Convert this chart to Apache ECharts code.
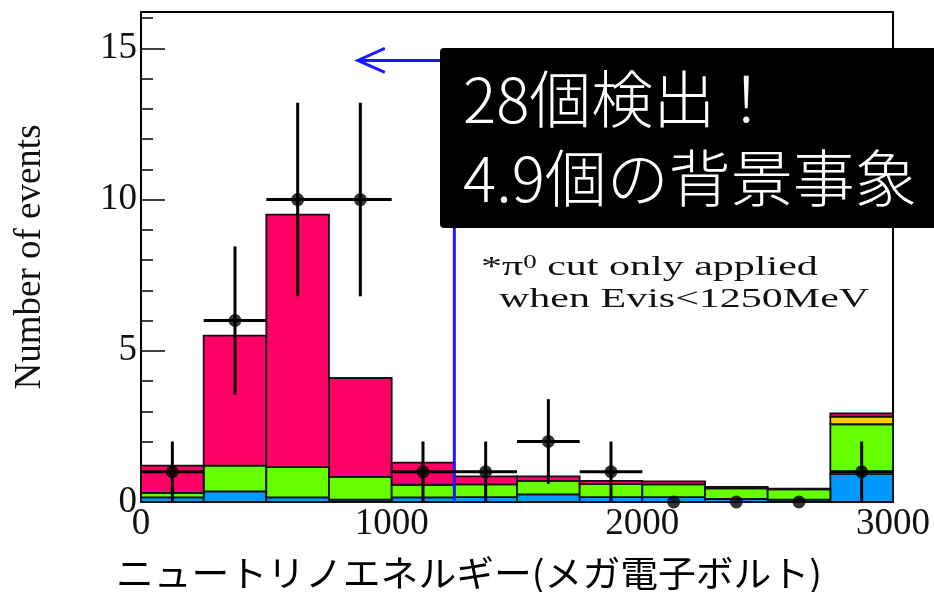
<!DOCTYPE html>
<html>
<head>
<meta charset="utf-8">
<script src="https://cdn.jsdelivr.net/npm/echarts@6/dist/echarts.min.js"></script>
<style>
  html, body { margin: 0; padding: 0; background: #fff; }
  #chart { width: 934px; height: 592px; }
</style>
</head>
<body>
<div id="chart"></div>
<script>
// histogram bins (MeV)
const binLow = [0, 250, 500, 750, 1000, 1250, 1500, 1750, 2000, 2250, 2500, 2750];
const binHigh = [250, 500, 750, 1000, 1250, 1500, 1750, 2000, 2250, 2500, 2750, 3000];

// stacked MC layers, bottom to top (thickness of each layer per bin)
const layerBlue = [0.15, 0.35, 0.15, 0.08, 0.15, 0.16, 0.25, 0.16, 0.16, 0.10, 0.08, 0.92];
const layerGreen = [0.15, 0.85, 1.00, 0.75, 0.42, 0.42, 0.45, 0.44, 0.42, 0.35, 0.34, 1.65];
const layerYellow = [0, 0, 0, 0, 0, 0, 0, 0, 0, 0, 0, 0.25];
const layerRed = [0.90, 4.30, 8.35, 3.27, 0.73, 0.27, 0.15, 0.10, 0.10, 0.05, 0.02, 0.11];

// observed events
const obsEnergy = [125, 375, 625, 875, 1125, 1375, 1625, 1875, 2125, 2375, 2625, 2875];
const obsCount = [1, 6, 10, 10, 1, 1, 2, 1, 0, 0, 0, 1];
const obsErrLow = [1, 2.45, 3.2, 3.2, 1, 1, 1.4, 1, 0, 0, 0, 1];
const obsErrHigh = [1, 2.45, 3.2, 3.2, 1, 1, 1.4, 1, 0, 0, 0, 1];

// cut line and arrow
const cutEnergy = 1250;
const arrowLevel = 14.6;
const arrowTip = 865;

const serif = "'Liberation Serif', 'DejaVu Serif', serif";
const cjk = "'Noto Sans CJK JP', 'Noto Sans', sans-serif";

const chart = echarts.init(document.getElementById('chart'));

// build stacked rect data [lo, hi, base, top]
const layers = [
  { name: 'blue', values: layerBlue, color: '#0099ff' },
  { name: 'green', values: layerGreen, color: '#66ff00' },
  { name: 'yellow', values: layerYellow, color: '#ffcc00' },
  { name: 'red', values: layerRed, color: '#ff0066' }
];
const base = binLow.map(() => 0);
const layerSeries = layers.map(layer => {
  const data = binLow.map((lo, i) => {
    const b = base[i];
    const t = b + layer.values[i];
    base[i] = t;
    return [lo, binHigh[i], b, t];
  });
  return {
    name: layer.name,
    type: 'custom',
    z: 2,
    encode: { x: [0, 1], y: [2, 3] },
    data,
    renderItem: (params, api) => {
      const lo = api.value(0), hi = api.value(1), b = api.value(2), t = api.value(3);
      if (t - b <= 0) return null;
      const p0 = api.coord([lo, t]);
      const p1 = api.coord([hi, b]);
      return {
        type: 'rect',
        shape: { x: p0[0], y: p0[1], width: p1[0] - p0[0], height: p1[1] - p0[1] },
        style: { fill: layer.color, stroke: '#111', lineWidth: 1.8 }
      };
    }
  };
});

const errData = obsEnergy.map((x, i) => [x, obsCount[i], obsErrLow[i], obsErrHigh[i], binLow[i], binHigh[i]]);

const option = {
  animation: false,
  backgroundColor: '#fff',
  grid: {
    left: 141, right: 41, top: 12, bottom: 90,
    show: true, borderColor: '#000', borderWidth: 2, backgroundColor: 'transparent'
  },
  xAxis: {
    type: 'value',
    min: 0, max: 3000, interval: 1000,
    axisLine: { lineStyle: { color: '#000', width: 2 } },
    axisTick: { inside: true, length: 14, lineStyle: { color: '#000', width: 1.5 } },
    minorTick: { show: true, splitNumber: 5, length: 7, lineStyle: { color: '#000', width: 1.5 } },
    splitLine: { show: false },
    axisLabel: { fontFamily: serif, fontSize: 37, color: '#111', margin: 4, formatter: v => String(v) }
  },
  yAxis: {
    type: 'value',
    min: 0, max: 16.2, interval: 5,
    name: 'Number of events',
    nameLocation: 'middle',
    nameGap: 92,
    nameTextStyle: { fontFamily: serif, fontSize: 37, color: '#111' },
    axisLine: { lineStyle: { color: '#000', width: 2 } },
    axisTick: { inside: true, length: 24, lineStyle: { color: '#000', width: 1.5 } },
    minorTick: { show: true, splitNumber: 5, length: 12, lineStyle: { color: '#000', width: 1.5 } },
    splitLine: { show: false },
    axisLabel: { fontFamily: serif, fontSize: 37, color: '#111', margin: 4, showMaxLabel: false }
  },
  series: [
    ...layerSeries,
    {
      name: 'cut',
      type: 'custom',
      z: 4,
      encode: { x: [0, 2], y: 1 },
      data: [[cutEnergy, arrowLevel, arrowTip]],
      renderItem: (params, api) => {
        const xc = api.value(0), yl = api.value(1), xt = api.value(2);
        const p0 = api.coord([xc, 0]);
        const p1 = api.coord([xc, yl]);
        const p2 = api.coord([xt, yl]);
        const st = { stroke: '#1a1aff', lineWidth: 3 };
        return {
          type: 'group',
          children: [
            { type: 'line', shape: { x1: p0[0], y1: p0[1], x2: p1[0], y2: p1[1] }, style: st },
            { type: 'line', shape: { x1: p1[0], y1: p1[1], x2: p2[0], y2: p2[1] }, style: st },
            { type: 'polyline', shape: { points: [[p2[0] + 27, p2[1] - 12], [p2[0], p2[1]], [p2[0] + 27, p2[1] + 12]] }, style: { stroke: '#1a1aff', lineWidth: 3, fill: null } }
          ]
        };
      }
    },
    {
      name: 'errors',
      type: 'custom',
      z: 5,
      encode: { x: [0, 4, 5], y: 1 },
      data: errData,
      renderItem: (params, api) => {
        const x = api.value(0), n = api.value(1), lo = api.value(2), hi = api.value(3);
        const xl = api.value(4), xh = api.value(5);
        if (lo === 0 && hi === 0) return null;
        const a = api.coord([x, n - lo]);
        const b = api.coord([x, n + hi]);
        const l = api.coord([xl, n]);
        const r = api.coord([xh, n]);
        const st = { stroke: '#000', lineWidth: 3 };
        return {
          type: 'group',
          children: [
            { type: 'line', shape: { x1: a[0], y1: a[1], x2: b[0], y2: b[1] }, style: st },
            { type: 'line', shape: { x1: l[0], y1: l[1], x2: r[0], y2: r[1] }, style: st }
          ]
        };
      }
    },
    {
      name: 'data',
      type: 'scatter',
      z: 6,
      symbol: 'circle',
      symbolSize: 13,
      clip: false,
      itemStyle: { color: '#000' },
      data: obsEnergy.map((x, i) => [x, obsCount[i]])
    }
  ],
  graphic: [
    {
      type: 'text',
      x: 116, y: 573, z: 10,
      scaleX: 1.05,
      style: {
        text: 'ニュートリノエネルギー(メガ電子ボルト)',
        fontFamily: cjk, fontSize: 36, fontWeight: 'normal', fill: '#000',
        verticalAlign: 'middle', textAlign: 'left'
      }
    },
    {
      type: 'text',
      x: 481, y: 268, z: 10,
      scaleX: 1.5,
      style: {
        text: '*π{sup|0} cut only applied',
        fontFamily: serif, fontSize: 28, fill: '#111',
        verticalAlign: 'middle', textAlign: 'left',
        rich: { sup: { fontFamily: serif, fontSize: 18, verticalAlign: 'top', padding: [0, 0, 10, 0] } }
      }
    },
    {
      type: 'text',
      x: 499, y: 300, z: 10,
      scaleX: 1.5,
      style: {
        text: 'when Evis<1250MeV',
        fontFamily: serif, fontSize: 28, fill: '#111',
        verticalAlign: 'middle', textAlign: 'left'
      }
    },
    {
      type: 'rect',
      x: 440, y: 48, z: 20,
      shape: { width: 500, height: 180, r: [4, 0, 0, 4] },
      style: { fill: '#000' }
    },
    {
      type: 'text',
      x: 463, y: 99, z: 21,
      style: {
        text: '28個検出！',
        fontFamily: cjk, fontSize: 62, fontWeight: 300, fill: '#fff',
        verticalAlign: 'middle', textAlign: 'left'
      }
    },
    {
      type: 'text',
      x: 463, y: 178, z: 21,
      style: {
        text: '4.9個の背景事象',
        fontFamily: cjk, fontSize: 62, fontWeight: 300, fill: '#fff',
        verticalAlign: 'middle', textAlign: 'left'
      }
    }
  ]
};

chart.setOption(option);
</script>
</body>
</html>
